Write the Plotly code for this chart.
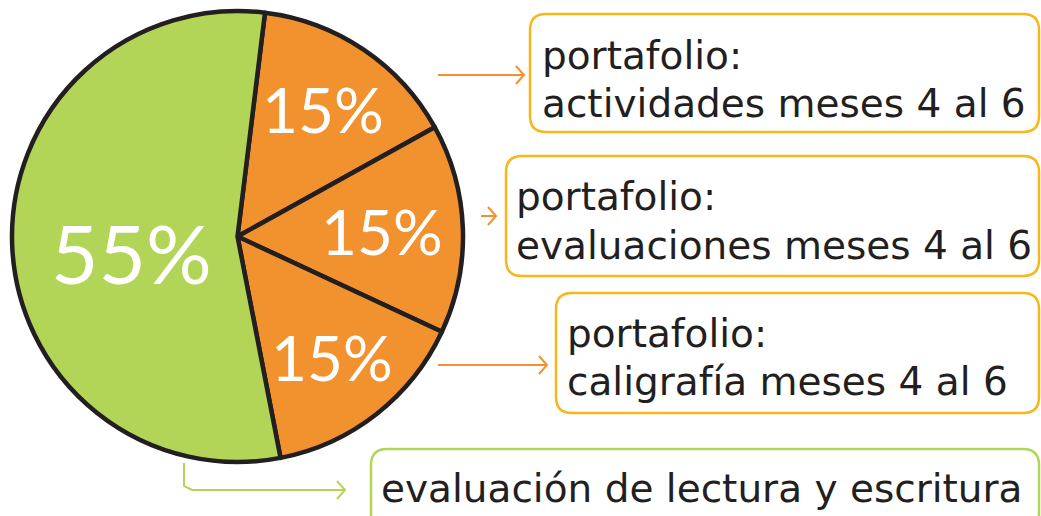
import math
import plotly.graph_objects as go

# ---- data ----
slice_labels = [
    "portafolio: actividades meses 4 al 6",
    "portafolio: evaluaciones meses 4 al 6",
    "portafolio: caligrafía meses 4 al 6",
    "evaluación de lectura y escritura",
]
slice_values = [15, 15, 15, 55]
slice_text = ["15%", "15%", "15%", "55%"]
box_line1 = ["portafolio:", "portafolio:", "portafolio:", None]
box_line2 = ["actividades meses 4 al 6", "evaluaciones meses 4 al 6",
             "caligrafía meses 4 al 6", "evaluación de lectura y escritura"]

# ---- style ----
W, H = 1041, 516
ORANGE = "#F2922E"
GREEN = "#B2D558"
DARK = "#231F20"
GOLD = "#F8B719"
FONT = "Lato"
BOXFONT = "DejaVu Sans"
slice_colors = [ORANGE, ORANGE, ORANGE, GREEN]

cx, cy, R = 237.5, 236.5, 225.5
rotation = 7
label_frac = [0.68, 0.64, 0.68, 0.47]
label_size = [62, 62, 62, 82]
label_dy = [0, 0, 0, 12]

fig = go.Figure()
fig.add_trace(go.Pie(
    labels=slice_labels, values=slice_values, sort=False, direction="clockwise",
    rotation=rotation, textinfo="none", hoverinfo="skip", showlegend=False,
    marker=dict(colors=slice_colors, line=dict(color=DARK, width=4.5)),
    domain=dict(x=[(cx - R) / W, (cx + R) / W], y=[1 - (cy + R) / H, 1 - (cy - R) / H]),
))

# invisible pixel axes for overlays
fig.update_xaxes(range=[0, W], visible=False, fixedrange=True)
fig.update_yaxes(range=[H, 0], visible=False, fixedrange=True)

annotations = []
total = sum(slice_values)
start = rotation
for v, t, f, s, dy in zip(slice_values, slice_text, label_frac, label_size, label_dy):
    span = 360 * v / total
    mid = math.radians(start + span / 2)
    start += span
    x = cx + R * f * math.sin(mid)
    y = cy - R * f * math.cos(mid) + dy
    annotations.append(dict(x=x, y=y, xref="x", yref="y", text=t, showarrow=False,
                            font=dict(family=FONT, size=s, color="white"),
                            xanchor="center", yanchor="middle"))

shapes = []

def rounded_box(x0, y0, x1, y1, r, color):
    p = (f"M{x0+r},{y0} L{x1-r},{y0} Q{x1},{y0} {x1},{y0+r} L{x1},{y1-r} "
         f"Q{x1},{y1} {x1-r},{y1} L{x0+r},{y1} Q{x0},{y1} {x0},{y1-r} "
         f"L{x0},{y0+r} Q{x0},{y0} {x0+r},{y0} Z")
    return dict(type="path", path=p, xref="x", yref="y",
                line=dict(color=color, width=2.5), fillcolor="rgba(0,0,0,0)")

def arrow(points, color):
    p = "M" + " L".join(f"{x},{y}" for x, y in points)
    (xe, ye) = points[-1]
    head = f"M{xe-8},{ye-9} L{xe},{ye} L{xe-8},{ye+9}"
    return [dict(type="path", path=p, xref="x", yref="y", line=dict(color=color, width=2)),
            dict(type="path", path=head, xref="x", yref="y", line=dict(color=color, width=2))]

boxes = [(530, 14, 1039, 132, GOLD), (506, 156, 1039, 276, GOLD),
         (556, 293, 1039, 413, GOLD), (371, 449, 1039, 530, GREEN)]
for b in boxes:
    shapes.append(rounded_box(b[0], b[1], b[2], b[3], 16, b[4]))

shapes += arrow([(438, 75), (524, 75)], ORANGE)
shapes += arrow([(481, 216), (496, 216)], ORANGE)
shapes += arrow([(438, 365), (547, 365)], ORANGE)
shapes += arrow([(184, 463), (184, 486), (192, 490), (345, 490)], GREEN)

text_x = [540, 514, 565, 379]
line1_y = [55, 196, 333, None]
line2_y = [103, 245, 381, 488]
for i in range(4):
    if box_line1[i]:
        annotations.append(dict(x=text_x[i], y=line1_y[i], xref="x", yref="y",
                                text=box_line1[i], showarrow=False, xanchor="left",
                                yanchor="middle", font=dict(family=BOXFONT, size=39, color=DARK)))
    annotations.append(dict(x=text_x[i], y=line2_y[i], xref="x", yref="y",
                            text=box_line2[i], showarrow=False, xanchor="left",
                            yanchor="middle", font=dict(family=BOXFONT, size=39, color=DARK)))

fig.update_layout(width=W, height=H, margin=dict(l=0, r=0, t=0, b=0),
                  paper_bgcolor="white", plot_bgcolor="white",
                  shapes=shapes, annotations=annotations)

fig.write_html("out.html", config={"displayModeBar": False})
